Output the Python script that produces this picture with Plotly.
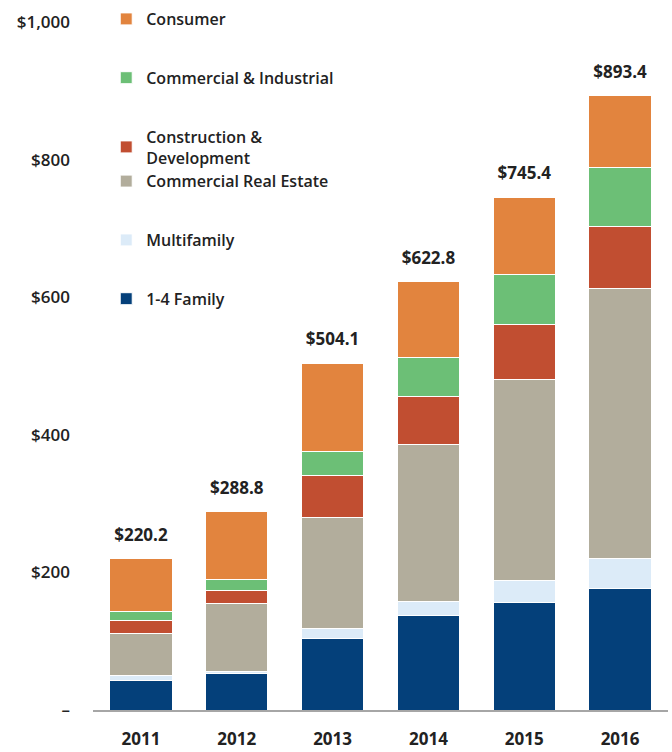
import plotly.graph_objects as go

# Loan portfolio by type, $ millions
years = ["2011", "2012", "2013", "2014", "2015", "2016"]
family_1_4 = [43.5, 53.0, 104.0, 138.0, 156.0, 177.0]
multifamily = [6.0, 3.4, 15.0, 19.0, 32.5, 43.0]
commercial_re = [62.0, 99.0, 161.0, 229.0, 292.5, 393.0]
construction = [19.0, 19.0, 61.0, 70.0, 80.0, 89.0]
commercial_ind = [12.0, 16.0, 35.0, 57.0, 72.0, 87.0]
consumer = [77.7, 98.4, 128.1, 109.8, 112.4, 104.4]
totals = [220.2, 288.8, 504.1, 622.8, 745.4, 893.4]

tick_vals = [0, 200, 400, 600, 800, 1000]
tick_text = ["\u2013", "$200", "$400", "$600", "$800", "$1,000"]

# series listed bottom to top; CRE and Construction share a legend group so they sit tight
series = [
    ("1-4 Family", family_1_4, "#04407A", "g5", 6),
    ("Multifamily", multifamily, "#DCEBF8", "g4", 5),
    ("Commercial Real Estate", commercial_re, "#B2AD9C", "g3", 4),
    ("Construction &<br>Development", construction, "#C14E31", "g3", 3),
    ("Commercial & Industrial", commercial_ind, "#6CBF76", "g2", 2),
    ("Consumer", consumer, "#E2843E", "g1", 1),
]

fig = go.Figure()
for name, vals, color, grp, rank in series:
    fig.add_trace(go.Bar(
        x=years,
        y=vals,
        name=name,
        legendgroup=grp,
        legendrank=rank,
        marker_color=color,
        marker_line_color="white",
        marker_line_width=1,
        hoverinfo="skip",
    ))

# total labels above each stack (invisible markers just push the text up a bit)
fig.add_trace(go.Scatter(
    x=years,
    y=totals,
    mode="markers+text",
    text=[f"<b>${t:.1f}</b>" for t in totals],
    textposition="top center",
    textfont=dict(family="Open Sans", size=17, color="#222222"),
    marker=dict(size=20, color="rgba(0,0,0,0)"),
    showlegend=False,
    cliponaxis=False,
    hoverinfo="skip",
))

fig.update_layout(
    width=672,
    height=752,
    barmode="stack",
    bargap=0.35,
    plot_bgcolor="white",
    paper_bgcolor="white",
    margin=dict(l=93, r=4, t=2, b=40),
    font=dict(family="Open Sans", size=16, color="#222222"),
    legend=dict(
        x=0.023, y=1.0, xanchor="left", yanchor="top",
        traceorder="grouped",
        tracegroupgap=35,
        font=dict(family="Open Sans", size=16, color="#222222", weight=600),
        bgcolor="rgba(0,0,0,0)",
    ),
    xaxis=dict(
        type="category",
        showline=True, linecolor="#A6A6A6", linewidth=2,
        showgrid=False, ticks="",
        ticklabelstandoff=13,
        tickfont=dict(family="Open Sans", size=17, color="#222222", weight=700),
    ),
    yaxis=dict(
        range=[0, 1029],
        tickvals=tick_vals, ticktext=tick_text,
        showgrid=False, zeroline=False, showline=False,
        ticklabelstandoff=22,
        tickfont=dict(family="Open Sans", size=17, color="#222222", weight=600),
    ),
)

# the default page body has an 8px margin; drop it so the figure fills the window
fig.write_html(
    "out.html",
    config={"displayModeBar": False},
    post_script="document.body.style.margin = '0';",
)
